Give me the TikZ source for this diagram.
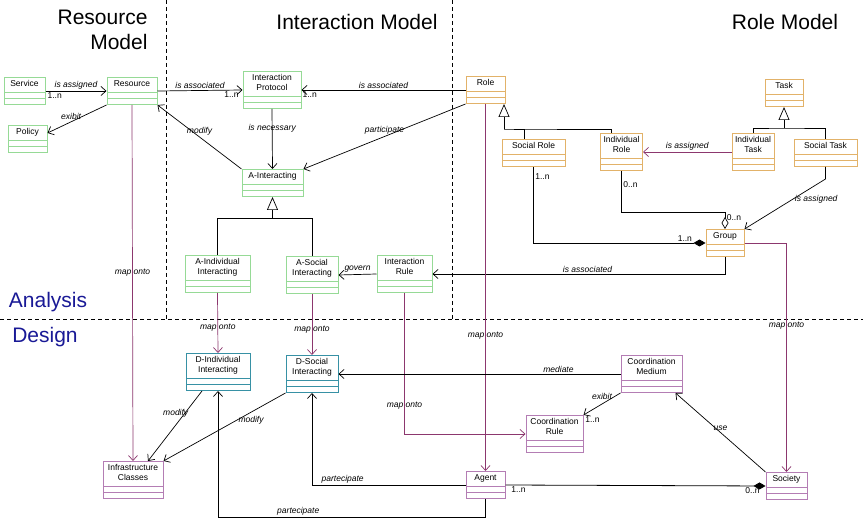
\documentclass[tikz,border=0pt]{standalone}
\usepackage{fontspec}
\setmainfont{Liberation Sans}
\usepackage{xcolor}
\usepackage{tikz}
\usetikzlibrary{arrows.meta, positioning, calc}
\definecolor{grnline}{RGB}{150,218,150}
\definecolor{orgline}{RGB}{226,178,105}
\definecolor{tealline}{RGB}{55,145,165}
\definecolor{purline}{RGB}{180,125,180}
\definecolor{mapcol}{RGB}{140,55,110}
\definecolor{phase}{RGB}{25,25,150}
% class name, with room left below it for the two empty compartments
\newcommand{\umlname}[1]{\begin{tabular}[b]{@{}c@{}}#1\end{tabular}\rule[-15pt]{0pt}{15pt}}
\tikzset{
  cls/.style={
    rectangle, draw=#1, line width=1pt, fill=white, anchor=north,
    inner xsep=2pt, inner ysep=2.5pt, font=\fontsize{8.5}{10}\selectfont,
    path picture={
      \draw[#1, line width=1pt]
        ([yshift=6pt]path picture bounding box.south west) -- ([yshift=6pt]path picture bounding box.south east)
        ([yshift=12pt]path picture bounding box.south west) -- ([yshift=12pt]path picture bounding box.south east);
    }
  },
  rel/.style={-{Straight Barb[length=5pt,width=9pt]}, line width=0.7pt},
  mapto/.style={rel, draw=mapcol},
  gen/.style={-{Triangle[open,length=13pt,width=11pt,fill=white]}, line width=0.7pt},
  plain/.style={line width=0.7pt},
  comp/.style={-{Diamond[length=12pt,width=7pt]}, line width=0.8pt},
  agg/.style={-{Diamond[open,length=12pt,width=7pt,fill=white]}, line width=0.7pt},
  lbl/.style={font=\fontsize{8.5}{10}\selectfont\itshape, inner sep=1.5pt},
  mult/.style={font=\fontsize{8.5}{10}\selectfont, inner sep=1.5pt},
  heading/.style={font=\fontsize{21}{25}\selectfont},
  divider/.style={line width=0.8pt, dash pattern=on 4pt off 3pt}
}

\begin{document}
\begin{tikzpicture}[x=1pt, y=-1pt]
  \useasboundingbox[fill=white] (0,0) rectangle (863,518);

  % phases and models
  \draw[divider] (166,0) -- (166,319);
  \draw[divider] (452,0) -- (452,319);
  \draw[divider] (0,319) -- (863,319);
  \node[heading, align=right, anchor=east] (restitle) at (151,30) {Resource\\Model};
  \node[heading] (inttitle)  at (357,22) {Interaction Model};
  \node[heading] (roletitle) at (785,22) {Role Model};
  \node[heading, text=phase] (analysis) at (48,302) {Analysis};
  \node[heading, text=phase] (design)   at (45,337) {Design};

  % analysis classes
  \node[cls=grnline, minimum width=41pt] (service)  at (24.5,77)  {\umlname{Service}};
  \node[cls=grnline, minimum width=50pt] (resource) at (132,77)   {\umlname{Resource}};
  \node[cls=grnline, minimum width=39pt] (policy)   at (27.5,125) {\umlname{Policy}};
  \node[cls=grnline, minimum width=58pt] (protocol) at (272,71)   {\umlname{Interaction\\Protocol}};
  \node[cls=grnline, minimum width=61pt] (ainter)   at (272.5,169) {\umlname{A-Interacting}};
  \node[cls=grnline, minimum width=65pt] (aindiv)   at (217.5,255) {\umlname{A-Individual\\Interacting}};
  \node[cls=grnline, minimum width=52pt] (asocial)  at (312,256)  {\umlname{A-Social\\Interacting}};
  \node[cls=grnline, minimum width=55pt] (irule)    at (404.5,255) {\umlname{Interaction\\Rule}};

  \node[cls=orgline, minimum width=39pt] (role)  at (485.5,76)  {\umlname{Role}};
  \node[cls=orgline, minimum width=63pt] (srole) at (533.5,139) {\umlname{Social Role}};
  \node[cls=orgline, minimum width=42pt] (irole) at (621.5,133) {\umlname{Individual\\Role}};
  \node[cls=orgline, minimum width=38pt] (task)  at (784,79)    {\umlname{Task}};
  \node[cls=orgline, minimum width=42pt] (itask) at (753,133)   {\umlname{Individual\\Task}};
  \node[cls=orgline, minimum width=63pt] (stask) at (825.5,139) {\umlname{Social Task}};
  \node[cls=orgline, minimum width=38pt] (group) at (725,229)   {\umlname{Group}};

  % design classes
  \node[cls=tealline, minimum width=64pt] (dindiv)  at (218,353) {\umlname{D-Individual\\Interacting}};
  \node[cls=tealline, minimum width=52pt] (dsocial) at (312,355) {\umlname{D-Social\\Interacting}};
  \node[cls=purline, minimum width=61pt] (cmedium) at (651.5,355) {\umlname{Coordination\\Medium}};
  \node[cls=purline, minimum width=57pt] (crule)   at (554.5,415) {\umlname{Coordination\\Rule}};
  \node[cls=purline, minimum width=60pt] (infra)   at (133,461)   {\umlname{Infrastructure\\Classes}};
  \node[cls=purline, minimum width=39pt] (agent)   at (485.5,471) {\umlname{Agent}};
  \node[cls=purline, minimum width=41pt] (society) at (786.5,472) {\umlname{Society}};

  % resource model
  \draw[rel] (service.east) -- node[lbl, midway, above]{is assigned}
    node[mult, pos=0.15, below]{1..n} (resource.west);
  \draw[rel] (resource.south west) -- node[lbl, pos=0.6, above]{exibit} ([yshift=6pt]policy.east);
  \draw[rel] (resource.east) -- node[lbl, midway, above]{is associated}
    node[mult, pos=0.87, below]{1..n} (protocol.west);
  \draw[mapto] (resource.south) -- node[lbl, pos=0.47]{map onto} (infra.north);

  % interaction model
  \draw[rel] (role.west) -- node[lbl, midway, above]{is associated}
    node[mult, pos=0.95, below]{1..n} (protocol.east);
  \draw[rel] (protocol.south) -- node[lbl, pos=0.33]{is necessary} (ainter.north);
  \draw[rel] (ainter.north west) -- node[lbl, midway, above]{modify} (resource.south east);
  \draw[rel] (role.south west) -- node[lbl, midway, above]{participate} (ainter.north east);
  \coordinate (intgen) at ([yshift=-21pt]ainter.south);
  \draw[gen] (aindiv.north) |- (intgen) -- (ainter.south);
  \draw[plain] (asocial.north) |- (intgen);
  \draw[rel] (irule.west) -- node[lbl, midway, above]{govern} (asocial.east);
  \draw[mapto] (aindiv.south) -- node[lbl, pos=0.58]{map onto} (dindiv.north);
  \draw[mapto] (asocial.south) -- node[lbl, pos=0.58]{map onto} (dsocial.north);
  \draw[mapto] (irule.south) |- node[lbl, pos=0.4]{map onto} (crule.west);

  % role model
  \coordinate (rolegen) at (504,129);
  \draw[gen] (rolegen) -- (rolegen |- role.south);
  \draw[plain] ([xshift=-9.5pt]srole.north) |- (rolegen) -| ([xshift=-10.5pt]irole.north);
  \coordinate (taskgen) at ([yshift=-21pt]task.south);
  \draw[gen] (taskgen) -- (task.south);
  \draw[plain] (itask.north) |- (taskgen) -| (stask.north);
  \draw[rel, draw=mapcol] (itask.west) -- node[lbl, midway, above]{is assigned} (irole.east);
  \draw[rel] (stask.south) -- ++(0,12) -- node[lbl, pos=0.4, right]{is assigned} (group.north east);
  \draw[agg] (irole.south) |- node[mult, pos=0.16, right]{0..n} ([yshift=17pt]group.north)
    -- node[mult, pos=0.3, right]{0..n} (group.north);
  \draw[comp] (srole.south) |- node[mult, pos=0.06, right]{1..n}
    node[mult, pos=0.94, above]{1..n} (group.west);
  \draw[rel] (group.south) |- node[lbl, pos=0.735, above]{is associated} (irule.east);
  \draw[mapto] (group.east) -| node[lbl, pos=0.68]{map onto} (society.north);
  \draw[mapto] (role.south) -- node[lbl, pos=0.63]{map onto} (agent.north);

  % design
  \draw[rel] (cmedium.west) -- node[lbl, pos=0.22, above]{mediate} (dsocial.east);
  \draw[rel] (cmedium.south west) -- node[lbl, midway, above=3pt]{exibit}
    node[mult, pos=1, below right]{1..n} (crule.north east);
  \draw[rel] (society.north west) -- node[lbl, midway, above]{use} ([xshift=-7pt]cmedium.south east);
  \draw[comp] (agent.east) -- node[mult, pos=0.05, below]{1..n}
    node[mult, pos=0.95, below]{0..n} (society.west);
  \draw[rel] (agent.west) -| node[lbl, pos=0.4, above]{partecipate} (dsocial.south);
  \draw[rel] (agent.south) -- ++(0,18) -| node[lbl, pos=0.35, above]{partecipate} (dindiv.south);
  \draw[rel] ([xshift=-16pt]dindiv.south) -- node[lbl, pos=0.32, xshift=-9pt]{modify} ([xshift=15pt]infra.north);
  \draw[rel] (dsocial.south west) -- node[lbl, pos=0.4, right]{modify} (infra.north east);
\end{tikzpicture}
\end{document}
